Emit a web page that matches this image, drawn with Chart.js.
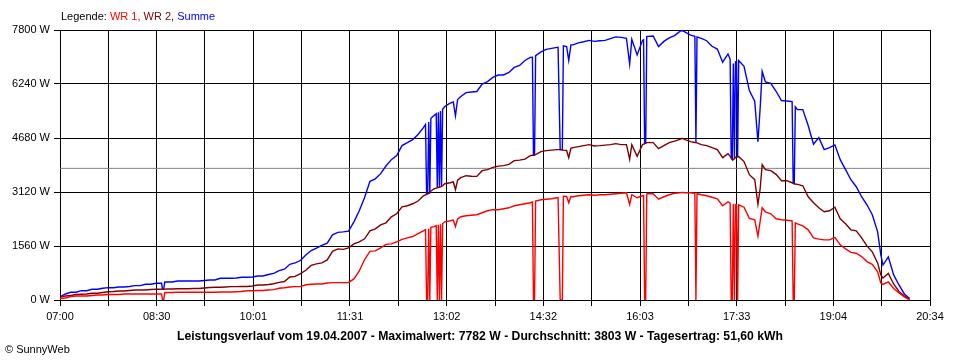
<!DOCTYPE html>
<html lang="de">
<head>
<meta charset="utf-8">
<title>Leistungsverlauf 19.04.2007</title>
<script src="https://cdn.jsdelivr.net/npm/chart.js@4.4.1/dist/chart.umd.min.js"></script>
<style>
    html, body { margin: 0; padding: 0; background: #fff; }
    #wrap { position: relative; width: 960px; height: 360px; overflow: hidden;
            font-family: 'Liberation Sans', Arial, sans-serif; font-size: 11px; color: #000; }
    #chart { position: absolute; left: 0; top: 0; }
    .legende { position: absolute; left: 61px; top: 10px; white-space: nowrap; line-height: 13px; }
    .titel { position: absolute; left: 0; top: 330px; width: 960px; text-align: center;
             font-size: 12.2px; font-weight: bold; white-space: nowrap; line-height: 13px; }
    .copy { position: absolute; left: 5px; top: 343px; white-space: nowrap; line-height: 13px; }
</style>
</head>
<body>
<div id="wrap">
    <canvas id="chart" width="960" height="360"></canvas>
    <div class="legende">Legende: <span style="color:#ff0000">WR 1,</span> <span style="color:#800000">WR 2,</span> <span style="color:#0000ff">Summe</span></div>
    <div class="titel">Leistungsverlauf vom 19.04.2007 - Maximalwert: 7782 W - Durchschnitt: 3803 W - Tagesertrag: 51,60 kWh</div>
    <div class="copy">© SunnyWeb</div>
</div>
<script>
/* =========================================================
   Leistungsverlauf 19.04.2007 – WR 1, WR 2, Summe
   ========================================================= */

// Messzeitpunkte
var times = [
    '07:00', '07:05', '07:10', '07:15', '07:20', '07:25', '07:30', '07:35', '07:40', '07:45',
    '07:50', '07:55', '08:00', '08:05', '08:10', '08:15', '08:20', '08:25', '08:30', '08:35',
    '08:36', '08:37', '08:38', '08:40', '08:45', '08:50', '08:55', '09:00', '09:05', '09:10',
    '09:15', '09:20', '09:25', '09:30', '09:35', '09:40', '09:45', '09:50', '09:55', '10:00',
    '10:05', '10:10', '10:15', '10:20', '10:25', '10:30', '10:35', '10:40', '10:45', '10:50',
    '10:55', '11:00', '11:05', '11:10', '11:15', '11:20', '11:25', '11:30', '11:35', '11:40',
    '11:45', '11:50', '11:55', '12:00', '12:05', '12:10', '12:15', '12:20', '12:25', '12:30',
    '12:35', '12:40', '12:42', '12:43', '12:44', '12:45', '12:46', '12:47', '12:50', '12:52',
    '12:53', '12:54', '12:55', '12:56', '12:57', '12:58', '13:00', '13:05', '13:08', '13:10',
    '13:12', '13:15', '13:20', '13:25', '13:30', '13:35', '13:40', '13:45', '13:50', '13:55',
    '14:00', '14:05', '14:10', '14:15', '14:20', '14:22', '14:23', '14:24', '14:25', '14:30',
    '14:35', '14:40', '14:45', '14:46', '14:47', '14:48', '14:50', '14:51', '14:54', '14:56',
    '14:58', '15:00', '15:05', '15:10', '15:15', '15:20', '15:25', '15:30', '15:35', '15:40',
    '15:45', '15:50', '15:53', '15:55', '16:00', '16:05', '16:06', '16:07', '16:08', '16:09',
    '16:10', '16:15', '16:20', '16:25', '16:30', '16:35', '16:40', '16:42', '16:45', '16:50',
    '16:54', '16:55', '16:56', '17:00', '17:05', '17:10', '17:15', '17:20', '17:25', '17:27',
    '17:28', '17:29', '17:30', '17:31', '17:32', '17:33', '17:34', '17:35', '17:40', '17:45',
    '17:50', '17:53', '17:55', '17:57', '18:00', '18:05', '18:10', '18:15', '18:20', '18:25',
    '18:26', '18:27', '18:28', '18:30', '18:35', '18:40', '18:45', '18:50', '18:55', '19:00',
    '19:05', '19:10', '19:15', '19:20', '19:25', '19:30', '19:35', '19:40', '19:45', '19:48',
    '19:50', '19:55', '20:00', '20:05', '20:10', '20:15'
];

// WR 1 [W]
var wr1 = [
    43, 58, 101, 116, 116, 116, 130, 145, 145, 159,
    159, 159, 174, 174, 174, 174, 174, 174, 174, 174,
    0, 0, 210, 217, 217, 223, 223, 223, 223, 223,
    223, 223, 223, 232, 232, 232, 240, 246, 269, 269,
    275, 275, 290, 300, 340, 355, 376, 385, 385, 440,
    455, 463, 463, 492, 501, 501, 501, 507, 608, 840,
    1170, 1405, 1419, 1506, 1607, 1622, 1680, 1752, 1796, 1833,
    1920, 1998, 2030, 0, 0, 2060, 0, 2100, 2120, 2150,
    0, 2170, 0, 2190, 0, 2210, 2259, 2288, 2310, 2123,
    2340, 2404, 2433, 2447, 2462, 2520, 2577, 2610, 2606, 2635,
    2664, 2722, 2751, 2780, 2809, 2830, 0, 0, 2860, 2896,
    2911, 2925, 2954, 2960, 1458, 0, 0, 3000, 2990, 2809,
    2990, 2983, 3012, 3026, 3041, 3026, 3041, 3041, 3055, 3070,
    3084, 3099, 2760, 3041, 2954, 3012, 3020, 0, 0, 3060,
    3070, 3070, 2911, 2983, 3041, 3084, 3099, 3110, 3099, 3099,
    3080, 0, 3070, 3041, 3012, 2968, 2925, 2722, 2838, 2800,
    0, 0, 2780, 0, 2760, 2750, 0, 2751, 2680, 2360,
    2317, 1845, 2259, 2664, 2548, 2491, 2346, 2317, 2302, 2288,
    0, 0, 2230, 2201, 2143, 2027, 1796, 1760, 1738, 1738,
    1810, 1593, 1477, 1376, 1352, 1254, 1109, 1028, 811, 492,
    450, 521, 333, 203, 87, 0
];

// WR 2 [W]
var wr2 = [
    87, 116, 130, 159, 165, 174, 194, 194, 217, 240,
    246, 261, 261, 275, 290, 290, 290, 304, 310, 310,
    310, 310, 315, 319, 319, 327, 327, 327, 333, 333,
    348, 362, 368, 368, 376, 385, 385, 391, 391, 405,
    434, 434, 449, 470, 510, 535, 666, 681, 760, 860,
    999, 1043, 1071, 1158, 1405, 1477, 1462, 1506, 1622, 1680,
    1767, 1998, 2056, 2172, 2230, 2404, 2491, 2693, 2722, 2780,
    2860, 3012, 3040, 3060, 3070, 3084, 3090, 3150, 3210, 3230,
    3240, 3250, 3260, 3270, 3280, 3300, 3359, 3388, 3410, 3186,
    3460, 3533, 3591, 3577, 3571, 3736, 3765, 3830, 3866, 3881,
    3918, 4025, 4040, 4069, 4170, 4180, 4185, 4190, 4199, 4286,
    4315, 4330, 4344, 4344, 4344, 4344, 4340, 4330, 4320, 4112,
    4380, 4402, 4431, 4460, 4489, 4451, 4460, 4474, 4489, 4518,
    4489, 4489, 4063, 4489, 4150, 4489, 4500, 4520, 4530, 4547,
    4547, 4547, 4373, 4460, 4547, 4590, 4642, 4672, 4634, 4576,
    4550, 4547, 4540, 4489, 4460, 4402, 4344, 4112, 4228, 4150,
    4100, 4060, 4054, 4090, 4120, 4141, 4130, 4141, 4000, 3620,
    3475, 2760, 3186, 3910, 3765, 3736, 3629, 3446, 3446, 3388,
    3370, 3360, 3350, 3339, 3301, 2983, 2809, 2664, 2548, 2577,
    2680, 2346, 2201, 2027, 1998, 1796, 1564, 1390, 1071, 724,
    637, 767, 463, 246, 116, 15
];

// Summe [W]
var summe = [
    96, 174, 223, 223, 269, 269, 310, 310, 339, 356,
    356, 376, 376, 391, 414, 414, 455, 455, 484, 484,
    310, 310, 521, 521, 521, 550, 550, 550, 550, 550,
    565, 579, 579, 628, 628, 628, 637, 657, 657, 666,
    695, 695, 738, 770, 850, 890, 1030, 1071, 1140, 1300,
    1430, 1497, 1578, 1642, 1882, 1955, 1969, 1990, 2259, 2577,
    2960, 3430, 3500, 3650, 3870, 4054, 4170, 4460, 4547, 4634,
    4780, 4980, 5070, 3060, 3070, 5140, 3090, 5250, 5330, 5380,
    3240, 5420, 3260, 5460, 3280, 5510, 5590, 5690, 5720, 5320,
    5790, 5880, 5990, 6010, 6024, 6240, 6310, 6430, 6500, 6500,
    6574, 6719, 6777, 6920, 7008, 7010, 4185, 4190, 7060, 7170,
    7240, 7269, 7298, 7300, 5800, 4344, 4340, 7340, 7320, 6922,
    7370, 7370, 7430, 7460, 7500, 7472, 7490, 7501, 7550, 7600,
    7588, 7560, 6816, 7530, 7080, 7501, 7520, 4520, 4530, 7610,
    7617, 7625, 7320, 7470, 7570, 7640, 7760, 7782, 7740, 7650,
    7620, 4547, 7600, 7560, 7490, 7330, 7250, 6870, 7110, 6960,
    4100, 4060, 6830, 4090, 6880, 6900, 4130, 6920, 6750, 6050,
    5740, 4570, 5500, 6600, 6300, 6260, 6030, 5763, 5748, 5730,
    3370, 3360, 5580, 5500, 5500, 5040, 4500, 4690, 4344, 4402,
    4480, 4054, 3765, 3475, 3272, 2983, 2751, 2462, 1969, 1303,
    1010, 1245, 724, 434, 174, 45
];

// Durchschnitt [W]
var durchschnitt = 3803;

// Achsen
var xTickLabels = ['07:00', '08:30', '10:01', '11:31', '13:02', '14:32', '16:03', '17:33', '19:04', '20:34'];
var yTicks = [0, 1560, 3120, 4680, 6240, 7800];
var xStart = '07:00';
var xEnd = '20:34';

(function () {
    'use strict';

    function toMin(t) {
        var p = t.split(':');
        return parseInt(p[0], 10) * 60 + parseInt(p[1], 10);
    }

    function series(values) {
        return values.map(function (v, i) { return { x: toMin(times[i]), y: v }; });
    }

    var xMin = toMin(xStart);
    var xMax = toMin(xEnd);
    // 18 Intervalle, jede zweite Linie beschriftet
    var xGrid = [];
    for (var i = 0; i <= (xTickLabels.length - 1) * 2; i++) {
        xGrid.push(xMin + (xMax - xMin) * i / ((xTickLabels.length - 1) * 2));
    }

    Chart.defaults.font.family = "'Liberation Sans', Arial, sans-serif";
    Chart.defaults.font.size = 11;
    Chart.defaults.color = '#000';

    function lineSet(label, values, color) {
        return {
            label: label,
            data: series(values),
            borderColor: color,
            backgroundColor: color,
            borderWidth: 1.4,
            pointRadius: 0,
            tension: 0,
            fill: false
        };
    }

    new Chart(document.getElementById('chart'), {
        type: 'line',
        data: {
            datasets: [
                lineSet('WR 1', wr1, '#ff0000'),
                lineSet('WR 2', wr2, '#800000'),
                lineSet('Summe', summe, '#0000ff'),
                {
                    label: 'Durchschnitt',
                    data: [{ x: xMin, y: durchschnitt }, { x: xMax, y: durchschnitt }],
                    borderColor: '#808080',
                    borderWidth: 1,
                    pointRadius: 0,
                    fill: false
                }
            ]
        },
        options: {
            responsive: false,
            animation: false,
            devicePixelRatio: 1,
            layout: { padding: { left: 0, right: 30, top: 30, bottom: 40 } },
            plugins: {
                legend: { display: false },
                tooltip: { enabled: false }
            },
            scales: {
                x: {
                    type: 'linear',
                    min: xMin,
                    max: xMax,
                    afterBuildTicks: function (scale) {
                        scale.ticks = xGrid.map(function (v) { return { value: v }; });
                    },
                    afterFit: function (scale) { scale.height = 20; },
                    grid: { color: '#000', lineWidth: 1, tickLength: 6 },
                    border: { color: '#000' },
                    ticks: {
                        autoSkip: false,
                        maxRotation: 0,
                        padding: 4,
                        callback: function (value, index) {
                            return index % 2 === 0 ? xTickLabels[index / 2] : '';
                        }
                    }
                },
                y: {
                    min: yTicks[0],
                    max: yTicks[yTicks.length - 1],
                    afterBuildTicks: function (scale) {
                        scale.ticks = yTicks.map(function (v) { return { value: v }; });
                    },
                    afterFit: function (scale) { scale.width = 60; },
                    grid: { color: '#000', lineWidth: 1, tickLength: 6 },
                    border: { color: '#000' },
                    ticks: {
                        padding: 4,
                        callback: function (value) { return value + ' W'; }
                    }
                }
            }
        }
    });
})();
</script>
</body>
</html>
